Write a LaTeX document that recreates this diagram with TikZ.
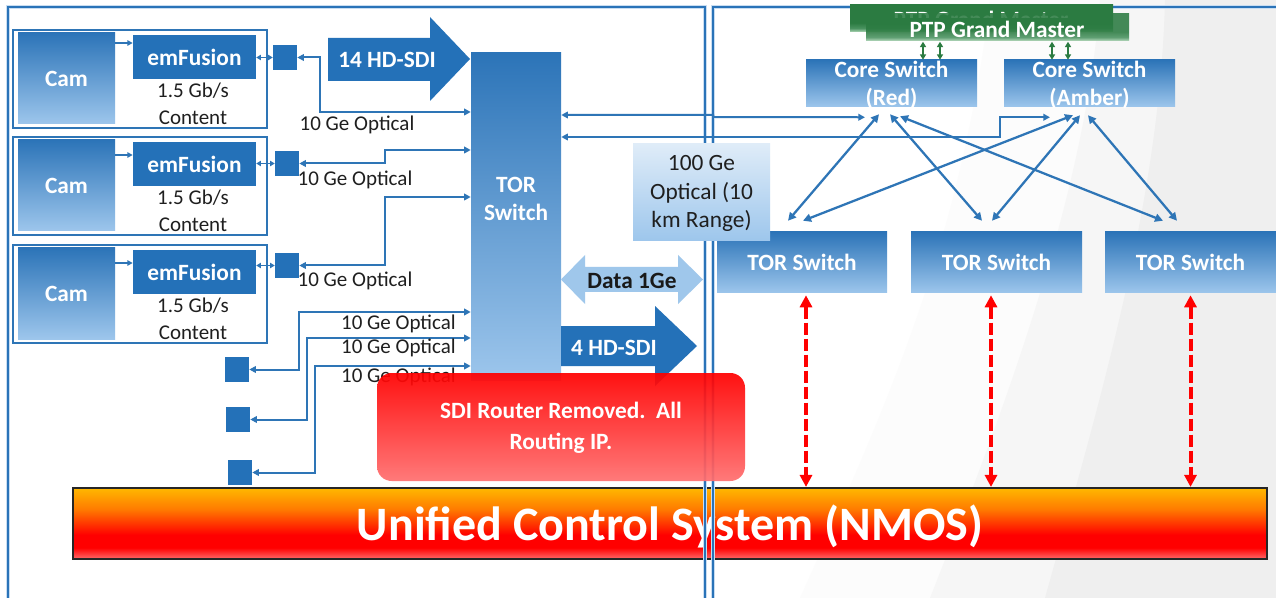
\documentclass[tikz,border=0pt]{standalone}
\usepackage{fontspec}
\setmainfont{Carlito}
\usetikzlibrary{arrows.meta,fit,calc}
\definecolor{bD}{HTML}{2471B8}
\definecolor{bL}{HTML}{2E75B6}
\definecolor{gTop}{HTML}{2C74B8}
\definecolor{gBot}{HTML}{9DC6EC}
\definecolor{aL}{HTML}{9FC7EB}
\definecolor{gn}{HTML}{2B7B41}
\definecolor{gnM}{HTML}{4A9360}
\definecolor{gnL}{HTML}{B2D8BA}
\definecolor{frameC}{HTML}{2A73B8}
\definecolor{frameH}{HTML}{C9DDF1}
\definecolor{ucsP}{HTML}{FF6A6A}
\definecolor{ucsR}{HTML}{FF0000}
\definecolor{ucsO}{HTML}{FF7A00}
\definecolor{ucsY}{HTML}{FFB800}
\definecolor{bgA}{HTML}{FCFCFC}
\definecolor{bgB}{HTML}{F6F6F6}
\definecolor{bgC}{HTML}{EFEFEF}
\definecolor{redL}{HTML}{FF7070}
\definecolor{redM}{HTML}{FF1515}
\definecolor{optTop}{HTML}{DFECF8}
\pgfdeclareverticalshading{ucsshade}{100bp}{color(0bp)=(ucsP); color(25bp)=(ucsP); color(33bp)=(ucsR); color(42bp)=(ucsR); color(60bp)=(ucsO); color(75bp)=(ucsY); color(100bp)=(ucsY)}
\pgfdeclareverticalshading{ptpshade}{100bp}{color(0bp)=(gnL); color(25bp)=(gnL); color(32bp)=(gnM); color(42bp)=(gn); color(100bp)=(gn)}
\begin{document}
\begin{tikzpicture}[x=0.75pt,y=-0.75pt,
  bf/.style={font=\fontsize{17.5}{21}\selectfont\bfseries},
  lbl/.style={font=\fontsize{15.75}{20.25}\selectfont, text=black!88, inner sep=0pt, align=center},
  grad/.style={top color=gTop, bottom color=gBot, inner sep=0pt},
  wtxt/.style={bf, text=white, align=center, inner sep=0pt},
  rowbox/.style={draw=bL, line width=1.7pt, inner sep=0pt},
  sqr/.style={fill=bD, inner sep=0pt},
  ptpbox/.style={inner sep=0pt, shade, shading=ptpshade},
  conn/.style={draw=bL, line width=1.5pt, >={Triangle[length=5pt,width=5pt]}, <->},
  shortc/.style={draw=bL, line width=1.3pt, >={Triangle[length=3.5pt,width=4pt]}, <->},
  camarr/.style={draw=bL, line width=1.1pt, >={Triangle[length=4pt,width=4pt]}, ->},
  barrow/.style={draw=bL, line width=1.7pt, >={Triangle[length=6pt,width=6pt]}, <->},
  garrow/.style={draw=gn, line width=1.2pt, >={Triangle[length=4pt,width=4.5pt]}, <->},
  rdash/.style={draw=red, line width=3pt, dash pattern=on 9pt off 3pt, >={Triangle[length=9pt,width=9pt]}, <->},
  frame/.style={draw=frameC, line width=1.5pt, preaction={draw=frameH, line width=3pt}},
]
\useasboundingbox (0,0) rectangle (1276,598);
\clip (0,0) rectangle (1276,598);
% background
\fill[white] (0,0) rectangle (1276,598);
\fill[bgA] (990,0) .. controls (960,250) and (880,420) .. (800,598) -- (1276,598) -- (1276,0) -- cycle;
\fill[bgB] (1100,0) .. controls (1085,200) and (1000,420) .. (930,598) -- (1276,598) -- (1276,0) -- cycle;
\fill[bgC] (1165,0) .. controls (1160,200) and (1100,400) .. (1045,598) -- (1276,598) -- (1276,0) -- cycle;

% unified control system bar
\node[fit={(73,488) (1267,559)}, inner sep=0pt, draw=black!85, line width=1.6pt, shade, shading=ucsshade] (ucs) {};
\node[font=\fontsize{36}{40}\selectfont\bfseries, text=white, inner sep=0pt] (ucst) at (670,526) {Unified Control System (NMOS)};

% frames
\draw[frame] (8,620) -- (8,7) -- (705,7) -- (705,620);
\draw[frame] (713,620) -- (713,7) -- (1290,7);

% camera rows
\foreach \i/\dy/\ay/\sx/\sy in {1/0/43/273/45, 2/107/155/275/151, 3/215/263/275/253}{
  \node[rowbox, fit={(13,30+\dy) (267,128+\dy)}] (row\i) {};
  \node[grad, fit={(18,33+\dy) (115,124+\dy)}, label={[wtxt]center:Cam}] (cam\i) {};
  \node[fill=bD, inner sep=0pt, fit={(133,35+\dy) (256,79+\dy)}, label={[wtxt]center:emFusion}] (ef\i) {};
  \node[lbl] (c\i) at (193,103.5+\dy) {1.5 Gb/s\\Content};
  \node[sqr, fit={(\sx,\sy) (\sx+24,\sy+25)}] (sq\i) {};
  \draw[camarr] (cam\i.east |- 0,\ay) -- (ef\i.west |- 0,\ay);
  \draw[shortc] (ef\i.east |- sq\i) -- (sq\i.west);
}

% lower squares
\node[sqr, fit={(225,357) (249,382)}] (sq4) {};
\node[sqr, fit={(226,407) (250,432)}] (sq5) {};
\node[sqr, fit={(228,460) (252,485)}] (sq6) {};

% 14 HD-SDI arrow
\fill[bD] (328,38) -- (430,38) -- (430,17) -- (470,59) -- (430,101) -- (430,81) -- (328,81) -- cycle;
\node[wtxt] (hd14) at (387,60) {14 HD-SDI};

% TOR switch (left)
\node[fit={(471,53) (561,380)}, inner sep=0pt, top color=gTop, bottom color=gBot] (tor) {};
\node[wtxt] (torl) at (516,199) {TOR\\Switch};

% left connectors
\draw[conn] (sq1.east) -- ++(23,0) |- (tor.west |- 0,112);
\draw[conn] (sq2.east) -- ++(86,0) |- (tor.west |- 0,150);
\draw[conn] (sq3.east) -- ++(86,0) |- (tor.west |- 0,197);
\draw[conn] (sq4.east) -- ++(50,0) |- (tor.west |- 0,312);
\draw[conn] (sq5.east) -- ++(57,0) |- (tor.west |- 0,338);
\draw[conn] (sq6.east) -- ++(63,0) |- (tor.west |- 0,366);

\node[lbl] (o1) at (357,125) {10 Ge Optical};
\node[lbl] (o2) at (355,180) {10 Ge Optical};
\node[lbl] (o3) at (355,281) {10 Ge Optical};
\node[lbl, anchor=east] (o4) at (456,324) {10 Ge Optical};
\node[lbl, anchor=east] (o5) at (456,348) {10 Ge Optical};
\node[lbl, anchor=east] (o6) at (456,377) {10 Ge Optical};

% core switches and PTP
\node[grad, fit={(806,60) (977,107)}] (coreR) {};
\node[wtxt] (coreRt) at (891.5,85) {Core Switch\\(Red)};
\node[grad, fit={(1004,60) (1175,107)}] (coreA) {};
\node[wtxt] (coreAt) at (1089.5,85) {Core Switch\\(Amber)};
\node[ptpbox, fit={(850,5) (1113,32)}] (ptpB) {};
\begin{scope}
\clip (850,0) rectangle (1113,18);
\node[wtxt] (ptpBt) at (981,19) {PTP Grand Master};
\end{scope}
\node[ptpbox, fit={(866,14) (1129,41)}, fill opacity=0.88] (ptp) {};
\node[wtxt] (ptpt) at (997,29) {PTP Grand Master};
\draw[garrow] ($(coreR.north)+(31.5,0)$) -- ($(coreR.north)+(31.5,-18)$);
\draw[garrow] ($(coreR.north)+(48.5,0)$) -- ($(coreR.north)+(48.5,-18)$);
\draw[garrow] ($(coreA.north)+(-37.5,0)$) -- ($(coreA.north)+(-37.5,-18)$);
\draw[garrow] ($(coreA.north)+(-21.5,0)$) -- ($(coreA.north)+(-21.5,-18)$);

% TOR switches (right)
\node[grad, fit={(717,232) (887,293)}, label={[wtxt]center:TOR Switch}] (t1) {};
\node[grad, fit={(911,232) (1082,293)}, label={[wtxt]center:TOR Switch}] (t2) {};
\node[grad, fit={(1105,232) (1276,293)}, label={[wtxt]center:TOR Switch}] (t3) {};

% links TOR (left) to cores
\draw[conn] (tor.east |- 0,115) -- (713,115) -- (713,117) -- ($(coreR.south)+(-26.5,10)$);
\draw[conn] (tor.east |- 0,137) -| ($(coreA.south)+(-89.5,10)$) -- ($(coreA.south)+(-39.5,10)$);

% mesh
\draw[barrow] ($(coreR.south)+(-12.5,7)$) -- ($(t1.north)+(-14,-11)$);
\draw[barrow] ($(coreR.south)+(-1.5,7)$) -- ($(t2.north)+(-14.5,-11)$);
\draw[barrow] ($(coreR.south)+(8.5,9)$) -- ($(t3.north)+(-27.5,-11)$);
\draw[barrow] ($(coreA.south)+(-16.5,8)$) -- ($(t1.north)+(1,-11)$);
\draw[barrow] ($(coreA.south)+(-9.5,8)$) -- ($(t2.north)+(-4.5,-11)$);
\draw[barrow] ($(coreA.south)+(-1.5,8)$) -- ($(t3.north)+(-13.5,-11)$);

% 100 Ge box
\node[fit={(633,144) (770,241)}, inner sep=0pt, top color=optTop, bottom color=gBot] (opt) {};
\node[font=\fontsize{17.5}{21.4}\selectfont, text=black!88, align=center, inner sep=0pt] (optt) at (701.5,193.5) {100 Ge\\Optical (10\\km Range)};

% Data 1Ge arrow
\fill[aL] (561,279.5) -- (585,255) -- (585,267) -- (678,267) -- (678,255) -- (703,279.5) -- (678,304) -- (678,292) -- (585,292) -- (585,304) -- cycle;
\node[bf, text=black!90, inner sep=0pt] (data) at (632,281) {Data 1Ge};

% 4 HD-SDI arrow
\fill[bD] (561,326) -- (655,326) -- (655,306) -- (697,346) -- (655,386) -- (655,366) -- (561,366) -- cycle;
\node[wtxt] (hd4) at (614,348) {4 HD-SDI};

% red box
\node[fit={(377,373) (745,481)}, inner sep=0pt, rounded corners=11pt, top color=red, middle color=redM, bottom color=redL, fill opacity=0.93] (router) {};
\node[wtxt, font=\fontsize{17.5}{23.2}\selectfont\bfseries] (routert) at (561,428) {SDI Router Removed.\ \ All\\Routing IP.};

% red dashed control links
\coordinate (d1) at ($(t1.south)+(4,2)$);
\coordinate (d2) at ($(t2.south)+(-5.5,2)$);
\coordinate (d3) at ($(t3.south)+(0,2)$);
\draw[rdash] (d1) -- (d1 |- ucs.north);
\draw[rdash] (d2) -- (d2 |- ucs.north);
\draw[rdash] (d3) -- (d3 |- ucs.north);
\end{tikzpicture}
\end{document}
